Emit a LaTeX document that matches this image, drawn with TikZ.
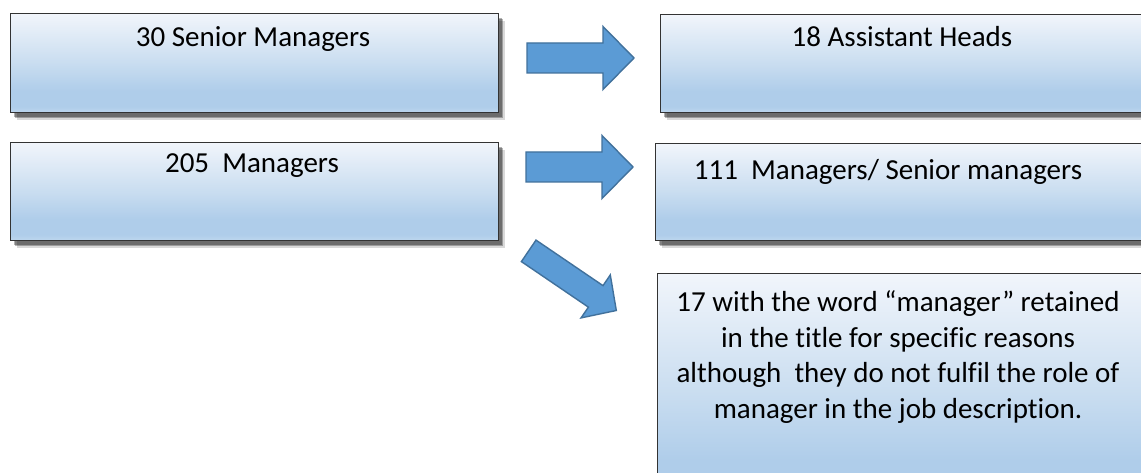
\documentclass[tikz,border=0pt]{standalone}
\usepackage{fontspec}
\setmainfont{Carlito}[Ligatures=NoCommon]
\usetikzlibrary{shadows}

\definecolor{arrowfill}{HTML}{5B9BD5}
\definecolor{arrowline}{HTML}{41719C}
\definecolor{boxtop}{HTML}{F1F5FB}
\definecolor{boxmid}{HTML}{C9DDF0}
\definecolor{boxlow}{HTML}{AFCDEA}
\definecolor{boxbase}{HTML}{BED7EE}

% light-to-blue fill of the text boxes (25bp = bottom edge, 75bp = top edge)
\pgfdeclareverticalshading{boxgrad}{100bp}{%
  color(0bp)=(boxbase); color(25bp)=(boxbase); color(28bp)=(boxlow);
  color(36bp)=(boxlow); color(50bp)=(boxmid); color(75bp)=(boxtop);
  color(100bp)=(boxtop)}

\tikzset{
  box/.style={rectangle, anchor=north west, inner sep=0pt,
    draw=black!80, line width=1.1pt, shade, shading=boxgrad,
    general shadow={fill=black, opacity=0.15, shadow xshift=6pt, shadow yshift=-7pt},
    general shadow={fill=black, opacity=0.28, shadow xshift=4.5pt, shadow yshift=-5.5pt},
    general shadow={fill=black, opacity=0.3, shadow xshift=3pt, shadow yshift=-4pt}},
  lbl/.style={anchor=base, inner sep=0pt, text=black,
    font=\fontsize{29}{35.4}\selectfont},
  blockarrow/.style={fill=arrowfill, draw=arrowline, line width=1.4pt, line join=miter},
}

\begin{document}
\begin{tikzpicture}[x=1pt, y=-1pt]
  \useasboundingbox (0,0) rectangle (1141,473);
  \fill[white] (0,0) rectangle (1141,473);
  \clip (0,0) rectangle (1141,473);

  % boxes
  \node[box, minimum width=488pt, minimum height=99pt] (sm) at (10,13) {};
  \node[box, minimum width=500pt, minimum height=98pt] (ah) at (660,14) {};
  \node[box, minimum width=488pt, minimum height=98pt] (mg) at (10,142) {};
  \node[box, minimum width=505pt, minimum height=97pt] (ms) at (655,143) {};
  \node[box, minimum width=503pt, minimum height=240pt] (kp) at (657,273) {};

  % labels
  \node[lbl] (t-sm) at (253,47) {30 Senior Managers};
  \node[lbl] (t-ah) at (902,47) {18 Assistant Heads};
  \node[lbl] (t-mg) at (252,173) {205\ \ Managers};
  \node[lbl] (t-ms) at (888,180) {111\ \ Managers/ Senior managers};
  \node[lbl, align=center] (t-kp) at (898,418)
    {17 with the word “manager” retained\\in the title for specific reasons\\although\ \ they do not fulfil the role of\\manager in the job description.};

  % block arrows
  \draw[blockarrow] (527,43) -- (603,43) -- (603,26.5) -- (634,58)
    -- (603,89.5) -- (603,73) -- (527,73) -- cycle;
  \draw[blockarrow] (526,152) -- (602,152) -- (602,135.5) -- (633,167)
    -- (602,198.5) -- (602,182) -- (526,182) -- cycle;
  \draw[blockarrow] (536.0,240.1) -- (603.0,285.65) -- (610.3,274.9)
    -- (616.3,310.5) -- (581.05,317.9) -- (588.4,307.15) -- (521.4,261.6) -- cycle;
\end{tikzpicture}
\end{document}
